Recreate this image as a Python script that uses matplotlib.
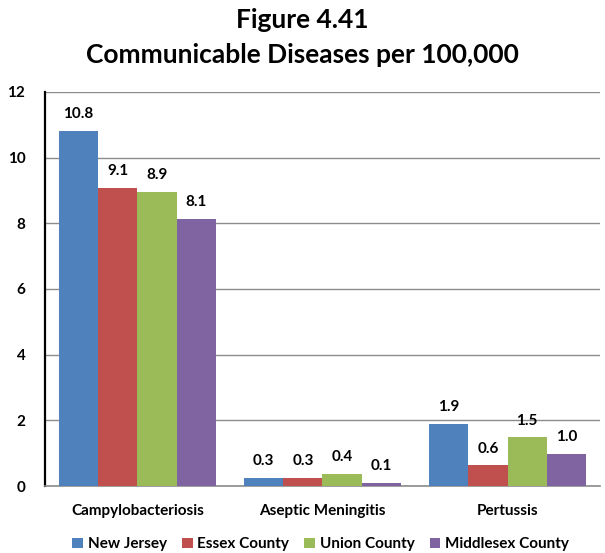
import numpy as np
import matplotlib.pyplot as plt

# data
categories = ['Campylobacteriosis', 'Aseptic Meningitis', 'Pertussis']
series = ['New Jersey', 'Essex County', 'Union County', 'Middlesex County']
values = {
    'New Jersey': [10.8, 0.26, 1.9],
    'Essex County': [9.08, 0.26, 0.63],
    'Union County': [8.94, 0.36, 1.48],
    'Middlesex County': [8.13, 0.1, 0.98],
}
colors = ['#4F81BD', '#C0504D', '#9BBB59', '#8064A2']

plt.rcParams['font.family'] = ['Lato', 'DejaVu Sans']
plt.rcParams['font.weight'] = 'bold'

fig = plt.figure(figsize=(6.05, 5.53), dpi=100)
ax = fig.add_axes([0.074, 0.121, 0.918, 0.713])

x = np.arange(len(categories))
width = 0.212
for i, name in enumerate(series):
    pos = x + (i - 1.5) * width
    bars = ax.bar(pos, values[name], width, color=colors[i], label=name, zorder=3)
    for b, v in zip(bars, values[name]):
        ax.text(b.get_x() + b.get_width() / 2, v + 0.3, f'{v:.1f}',
                ha='center', va='bottom', fontsize=11, fontweight='bold')

ax.set_xlim(-0.5, 2.5)
ax.set_ylim(0, 12)
ax.set_yticks(range(0, 13, 2))
ax.set_xticks(x)
ax.set_xticklabels(categories, fontsize=11, fontweight='bold')
ax.tick_params(axis='y', labelsize=11, length=0, pad=14)
ax.tick_params(axis='x', length=0, pad=13)
ax.yaxis.grid(True, color='#8c8c8c', linewidth=1, zorder=0)
ax.set_axisbelow(True)
for s in ['top', 'right']:
    ax.spines[s].set_visible(False)
ax.spines['left'].set_color('black')
ax.spines['left'].set_linewidth(1.6)
ax.spines['bottom'].set_color('#8c8c8c')
ax.spines['bottom'].set_linewidth(1.2)

fig.suptitle('Figure 4.41\nCommunicable Diseases per 100,000', fontsize=19,
             fontweight='bold', y=0.985, linespacing=1.55)

fig.legend(loc='lower center', ncol=4, bbox_to_anchor=(0.53, -0.022), frameon=False,
           prop={'size': 11, 'weight': 'bold'}, handlelength=0.7, handleheight=0.7,
           handletextpad=0.3, columnspacing=1.0)

fig.savefig('out.png', dpi=100)
